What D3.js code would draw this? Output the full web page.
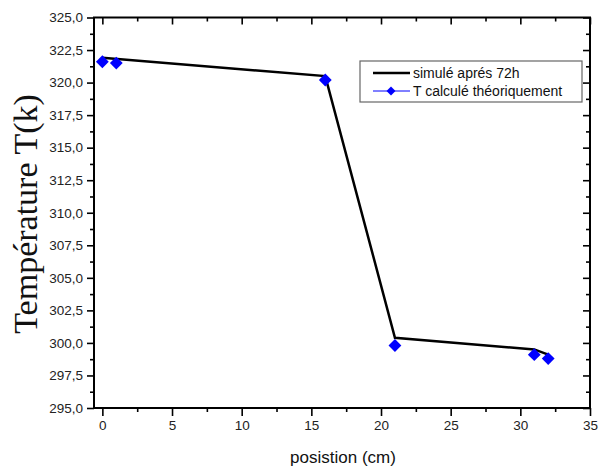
<!DOCTYPE html>
<html>
<head>
<meta charset="utf-8">
<script src="https://cdn.jsdelivr.net/npm/d3@7"></script>
<style>
  body { margin: 0; background: #fff; }
  svg text { font-family: Arial, "Liberation Sans", sans-serif; }
</style>
</head>
<body>
<svg id="chart" width="599" height="469"></svg>
<script>
// simulated curve (black line)
const simX = [0, 16, 21, 31, 32];
const simY = [321.9, 320.5, 300.4, 299.5, 299.1];
// theoretical values (blue diamonds)
const thX = [0, 1, 16, 21, 31, 32];
const thY = [321.6, 321.5, 320.2, 299.8, 299.1, 298.8];

const xTicks = [0, 5, 10, 15, 20, 25, 30, 35];
const yTicks = [295, 297.5, 300, 302.5, 305, 307.5, 310, 312.5, 315, 317.5, 320, 322.5, 325];
const legendLabels = ["simulé aprés 72h", "T calculé théoriquement"];

const svg = d3.select("#chart");
const mLeft = 94, mRight = 590, mTop = 17.5, mBottom = 408;

const x = d3.scaleLinear().domain([-0.6, 35]).range([mLeft, mRight]);
const y = d3.scaleLinear().domain([295, 325]).range([mBottom, mTop]);

const fmt = v => v.toFixed(1).replace(".", ",");
const minorX = d3.range(2.5, 35, 5);
const minorY = d3.range(296.25, 325, 2.5);

// bottom axis, ticks out
svg.append("g").attr("transform", `translate(0,${mBottom})`)
  .call(d3.axisBottom(x).tickValues(xTicks).tickSize(8).tickSizeOuter(0).tickPadding(4))
  .call(g => g.selectAll("text").attr("font-size", 13.5).attr("fill", "#222"));
svg.append("g").attr("transform", `translate(0,${mBottom})`)
  .call(d3.axisBottom(x).tickValues(minorX).tickSize(4).tickSizeOuter(0).tickFormat(""));

// left axis, ticks out
svg.append("g").attr("transform", `translate(${mLeft},0)`)
  .call(d3.axisLeft(y).tickValues(yTicks).tickFormat(fmt).tickSize(7).tickSizeOuter(0).tickPadding(4))
  .call(g => g.selectAll("text").attr("font-size", 13.5).attr("fill", "#222"));
svg.append("g").attr("transform", `translate(${mLeft},0)`)
  .call(d3.axisLeft(y).tickValues(minorY).tickSize(4).tickSizeOuter(0).tickFormat(""));

// top axis, ticks in
svg.append("g").attr("transform", `translate(0,${mTop})`)
  .call(d3.axisBottom(x).tickValues(xTicks).tickSize(7).tickSizeOuter(0).tickFormat(""));
svg.append("g").attr("transform", `translate(0,${mTop})`)
  .call(d3.axisBottom(x).tickValues(minorX).tickSize(4).tickSizeOuter(0).tickFormat(""));

// right axis, ticks in
svg.append("g").attr("transform", `translate(${mRight},0)`)
  .call(d3.axisLeft(y).tickValues(yTicks).tickSize(7).tickSizeOuter(0).tickFormat(""));
svg.append("g").attr("transform", `translate(${mRight},0)`)
  .call(d3.axisLeft(y).tickValues(minorY).tickSize(4).tickSizeOuter(0).tickFormat(""));

svg.selectAll(".domain").remove();
svg.selectAll(".tick line").attr("stroke-width", 1.6);
// full frame
svg.append("rect")
  .attr("x", mLeft).attr("y", mTop)
  .attr("width", mRight - mLeft).attr("height", mBottom - mTop)
  .attr("fill", "none").attr("stroke", "#000").attr("stroke-width", 2);

// simulated line
const line = d3.line().x((d, i) => x(simX[i])).y((d, i) => y(simY[i]));
svg.append("path")
  .attr("d", line(simX))
  .attr("fill", "none").attr("stroke", "#000").attr("stroke-width", 2.5);

// theoretical diamonds
const diamond = d3.symbol().type(d3.symbolSquare).size(82);
svg.selectAll(".pt").data(thX).join("path")
  .attr("class", "pt")
  .attr("d", diamond)
  .attr("transform", (d, i) => `translate(${x(d)},${y(thY[i])}) rotate(45)`)
  .attr("fill", "#0000ff");

// axis titles
svg.append("text")
  .attr("x", 343).attr("y", 463)
  .attr("text-anchor", "middle").attr("font-size", 17).attr("fill", "#111")
  .text("posistion (cm)");
svg.append("text")
  .attr("transform", "translate(37,214) rotate(-90)")
  .attr("text-anchor", "middle")
  .style("font-family", "'Liberation Serif', 'Times New Roman', serif")
  .attr("font-size", 34).attr("fill", "#111")
  .text("Température T(k)");

// legend
const lg = svg.append("g");
lg.append("rect")
  .attr("x", 360).attr("y", 61).attr("width", 222).attr("height", 41)
  .attr("fill", "#fff").attr("stroke", "#666").attr("stroke-width", 1.2);
lg.append("line")
  .attr("x1", 373).attr("x2", 410).attr("y1", 73).attr("y2", 73)
  .attr("stroke", "#000").attr("stroke-width", 2.5);
lg.append("line")
  .attr("x1", 373).attr("x2", 410).attr("y1", 91).attr("y2", 91)
  .attr("stroke", "#0000ff").attr("stroke-width", 1);
lg.append("path")
  .attr("d", d3.symbol().type(d3.symbolSquare).size(40))
  .attr("transform", "translate(391,91) rotate(45)")
  .attr("fill", "#0000ff");
lg.selectAll(".lt").data(legendLabels).join("text")
  .attr("class", "lt")
  .attr("x", 413).attr("y", (d, i) => 78 + i * 18)
  .attr("font-size", 14).attr("fill", "#111")
  .text(d => d);
</script>
</body>
</html>
